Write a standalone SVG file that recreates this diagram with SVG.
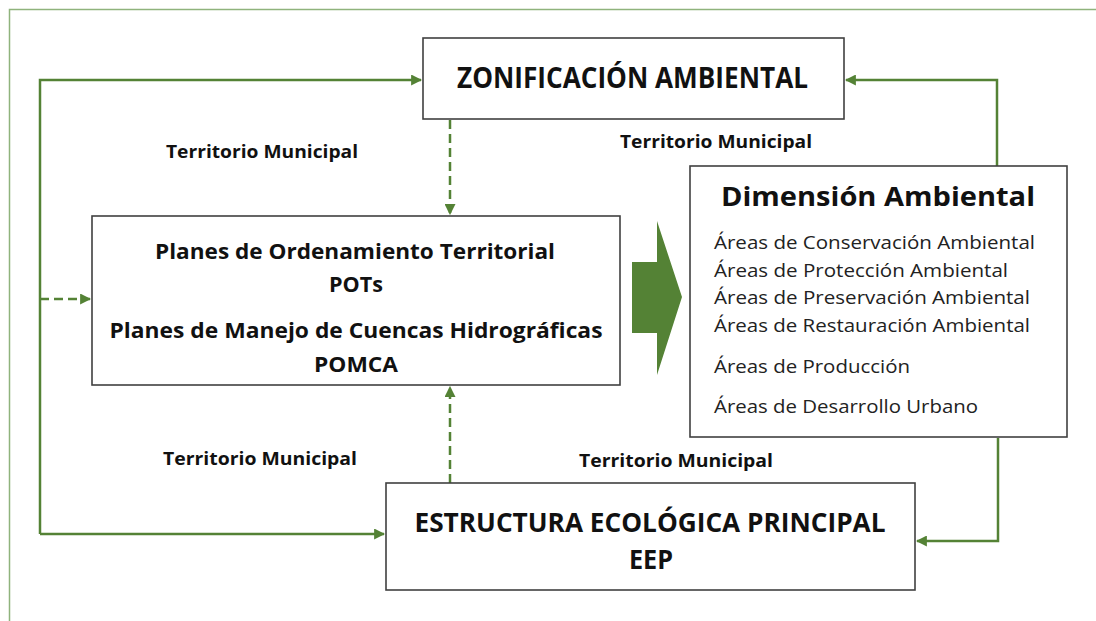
<svg xmlns="http://www.w3.org/2000/svg" width="1096" height="621" viewBox="0 0 1096 621">
<style>
.box{fill:#fff;stroke:#404040;stroke-width:1.6}
.con{fill:none;stroke:#548235;stroke-width:2.5}
.dash{stroke-dasharray:9 5}
.t{font-family:"Open Sans","Liberation Sans",sans-serif;fill:#111}
.b{font-weight:700}
.lbl{font-family:"Open Sans","Liberation Sans",sans-serif;font-weight:700;font-size:18px;fill:#111}
.it{font-family:"Open Sans","Liberation Sans",sans-serif;font-size:18.5px;fill:#222}
</style>
<defs>
<marker id="ah" viewBox="0 0 10 10" refX="9" refY="5" markerWidth="4.4" markerHeight="4.4" orient="auto" markerUnits="strokeWidth">
<path d="M0,0 L10,5 L0,10 z" fill="#548235"/>
</marker>
</defs>
<rect width="1096" height="621" fill="#fff"/>
<path d="M9.5,621 V9.5 H1096" fill="none" stroke="#8fb37c" stroke-width="1.5"/>

<g id="connectors">
<path class="con" d="M40,534 V80 H421" marker-end="url(#ah)"/>
<path class="con" d="M40,534 H384" marker-end="url(#ah)"/>
<path class="con dash" d="M40,299 H90" marker-end="url(#ah)"/>
<path class="con dash" d="M450,120 V214" marker-end="url(#ah)"/>
<path class="con dash" d="M450,483 V387" marker-end="url(#ah)"/>
<path class="con" d="M997,166 V80 H846" marker-end="url(#ah)"/>
<path class="con" d="M998,438 V541 H917" marker-end="url(#ah)"/>
<path id="bigarrow" d="M632,262 H657 V221 L682,297 L657,375 V333 H632 Z" fill="#548235"/>
</g>

<g id="labels">
<text class="lbl" x="166" y="158" textLength="192" lengthAdjust="spacingAndGlyphs">Territorio Municipal</text>
<text class="lbl" x="620" y="148" textLength="192" lengthAdjust="spacingAndGlyphs">Territorio Municipal</text>
<text class="lbl" x="163" y="465" textLength="194" lengthAdjust="spacingAndGlyphs">Territorio Municipal</text>
<text class="lbl" x="579" y="467" textLength="194" lengthAdjust="spacingAndGlyphs">Territorio Municipal</text>
</g>

<g id="zonificacion">
<rect class="box" x="423" y="38" width="421" height="81"/>
<text class="t b" x="457" y="88" font-size="29" textLength="351" lengthAdjust="spacingAndGlyphs">ZONIFICACIÓN AMBIENTAL</text>
</g>

<g id="planes">
<rect class="box" x="92" y="216" width="528" height="169"/>
<text class="t b" x="355" y="259" font-size="21" text-anchor="middle" textLength="400" lengthAdjust="spacingAndGlyphs">Planes de Ordenamiento Territorial</text>
<text class="t b" x="356" y="292" font-size="21" text-anchor="middle" textLength="54" lengthAdjust="spacingAndGlyphs">POTs</text>
<text class="t b" x="356" y="338" font-size="21" text-anchor="middle" textLength="493" lengthAdjust="spacingAndGlyphs">Planes de Manejo de Cuencas Hidrográficas</text>
<text class="t b" x="356" y="372" font-size="21" text-anchor="middle" textLength="84" lengthAdjust="spacingAndGlyphs">POMCA</text>
</g>

<g id="dimension">
<rect class="box" x="690" y="166" width="377" height="271"/>
<text class="t b" x="721" y="206" font-size="27" textLength="314" lengthAdjust="spacingAndGlyphs">Dimensión Ambiental</text>
<text class="it" x="714" y="249" textLength="321" lengthAdjust="spacingAndGlyphs">Áreas de Conservación Ambiental</text>
<text class="it" x="714" y="277" textLength="294" lengthAdjust="spacingAndGlyphs">Áreas de Protección Ambiental</text>
<text class="it" x="714" y="304" textLength="316" lengthAdjust="spacingAndGlyphs">Áreas de Preservación Ambiental</text>
<text class="it" x="714" y="332" textLength="316" lengthAdjust="spacingAndGlyphs">Áreas de Restauración Ambiental</text>
<text class="it" x="714" y="373" textLength="196" lengthAdjust="spacingAndGlyphs">Áreas de Producción</text>
<text class="it" x="714" y="413" textLength="264" lengthAdjust="spacingAndGlyphs">Áreas de Desarrollo Urbano</text>
</g>

<g id="estructura">
<rect class="box" x="386" y="483" width="529" height="107"/>
<text class="t b" x="650" y="532" font-size="27" text-anchor="middle" textLength="471" lengthAdjust="spacingAndGlyphs">ESTRUCTURA ECOLÓGICA PRINCIPAL</text>
<text class="t b" x="651" y="569" font-size="27" text-anchor="middle" textLength="44" lengthAdjust="spacingAndGlyphs">EEP</text>
</g>
</svg>
